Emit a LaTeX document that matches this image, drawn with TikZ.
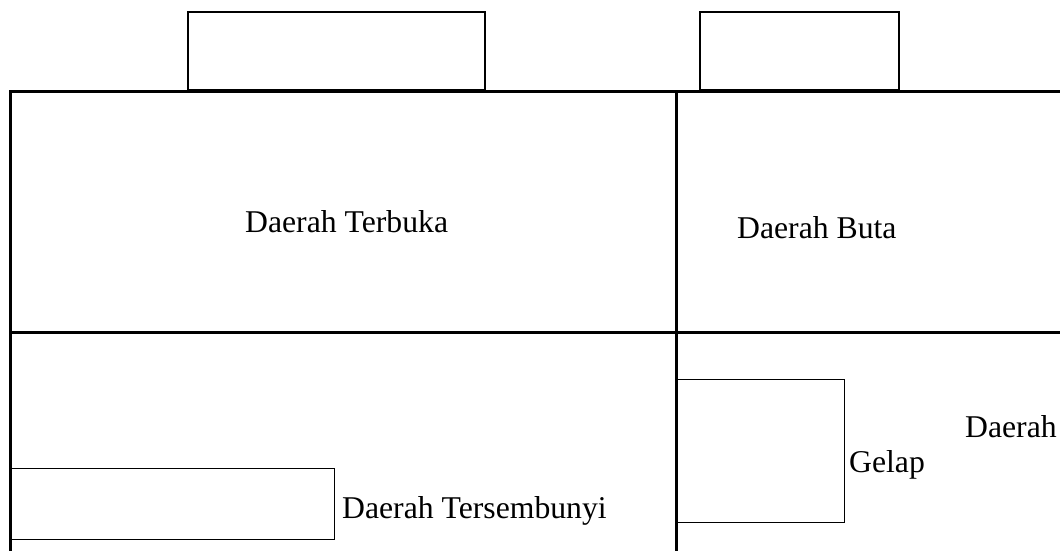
\documentclass[tikz,border=0pt]{standalone}
\usepackage{fontspec}
\setmainfont{Liberation Serif}
\begin{document}
\begin{tikzpicture}[x=1pt,y=-1pt,
  frameline/.style={line width=3pt},
  thinbox/.style={draw,line width=1.3pt},
  lbl/.style={anchor=base west,inner sep=0pt,font=\fontsize{31.7}{36}\selectfont}]
\useasboundingbox (0,0) rectangle (1060,551);
% top boxes
\draw[thinbox] (188,12) rectangle (485,90);
\draw[thinbox] (700,12) rectangle (899,90);
% frame
\draw[frameline] (10,551) -- (10,91) -- (1060,91);
\draw[frameline] (10,332) -- (1060,332);
\draw[frameline] (676,91) -- (676,551);
% inner boxes
\draw[thinbox,line width=1pt] (10,468) rectangle (334,539);
\draw[thinbox,line width=1pt] (676,379) rectangle (844,522);
% labels
\node[lbl] (terbuka) at (245,232) {Daerah Terbuka};
\node[lbl] (buta) at (737,238) {Daerah Buta};
\node[lbl] (tersembunyi) at (342,518) {Daerah Tersembunyi};
\node[lbl] (daerah) at (965,437) {Daerah};
\node[lbl] (gelap) at (849,472) {Gelap};
\end{tikzpicture}
\end{document}
